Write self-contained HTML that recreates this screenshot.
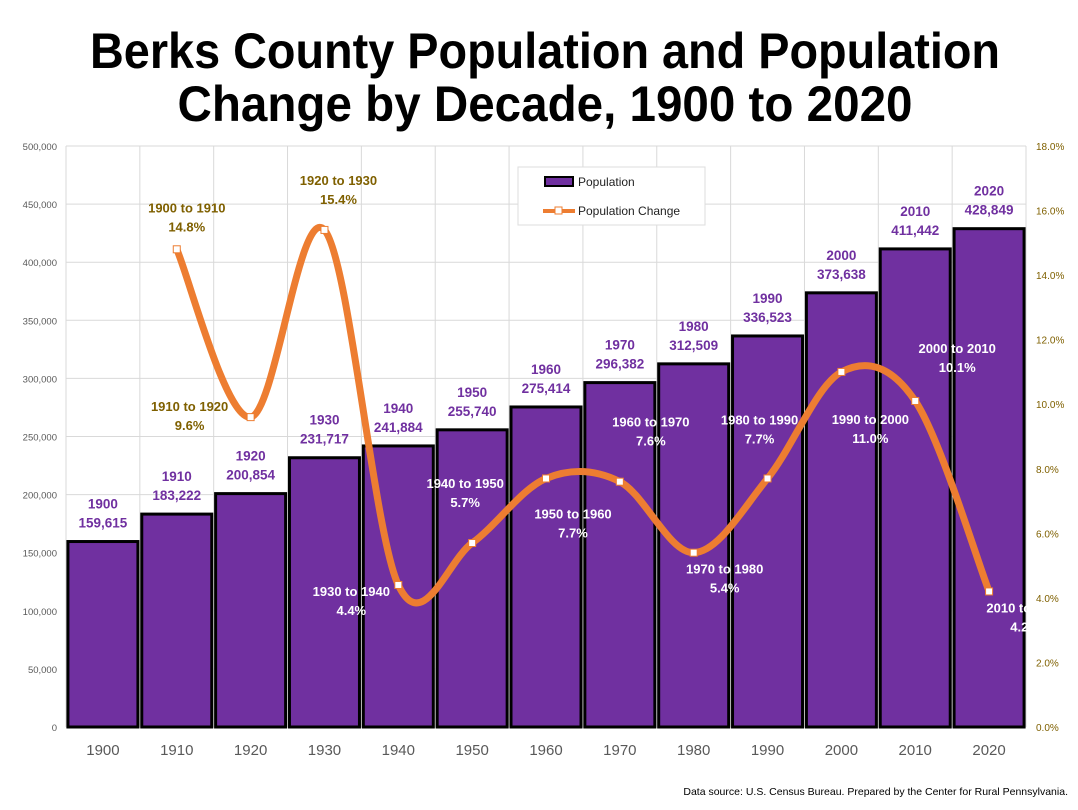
<!DOCTYPE html>
<html><head><meta charset="utf-8"><style>
body{margin:0;background:#fff}
svg{display:block;font-family:"Liberation Sans",sans-serif}
</style></head><body>
<svg id="chart" width="1078" height="810" viewBox="0 0 1078 810" xmlns="http://www.w3.org/2000/svg">
<rect width="1078" height="810" fill="#fff"/>
<text x="545" y="68" text-anchor="middle" font-size="50" font-weight="bold" textLength="910" lengthAdjust="spacingAndGlyphs">Berks County Population and Population</text>
<text x="545" y="121" text-anchor="middle" font-size="50" font-weight="bold" textLength="735" lengthAdjust="spacingAndGlyphs">Change by Decade, 1900 to 2020</text>
<g id="grid"></g>
<g id="bars"></g>
<g id="line"></g>
<g id="labels"></g>
<g id="legend">
<rect x="518" y="167" width="187" height="58" fill="#fff" stroke="#ddd"/>
<rect x="545" y="177" width="28" height="9" fill="#7030a0" stroke="#000" stroke-width="2"/>
<text x="578" y="186" font-size="12" fill="#222">Population</text>
<line x1="543" y1="211" x2="575" y2="211" stroke="#ed7d31" stroke-width="4"/>
<rect x="555" y="207" width="7" height="7" fill="#fff" stroke="#ed7d31"/>
<text x="578" y="215" font-size="12" fill="#222">Population Change</text>
</g>
<text x="1068" y="795" text-anchor="end" font-size="10.5" fill="#000">Data source: U.S. Census Bureau. Prepared by the Center for Rural Pennsylvania.</text>
</svg>
<script>
const years=["1900","1910","1920","1930","1940","1950","1960","1970","1980","1990","2000","2010","2020"];
const population=[159615,183222,200854,231717,241884,255740,275414,296382,312509,336523,373638,411442,428849];
const changeLabels=["1900 to 1910","1910 to 1920","1920 to 1930","1930 to 1940","1940 to 1950","1950 to 1960","1960 to 1970","1970 to 1980","1980 to 1990","1990 to 2000","2000 to 2010","2010 to 2020"];
const changePct=[14.8,9.6,15.4,4.4,5.7,7.7,7.6,5.4,7.7,11.0,10.1,4.2];
const leftTicks=[0,50000,100000,150000,200000,250000,300000,350000,400000,450000,500000];
const rightTicks=[0,2,4,6,8,10,12,14,16,18];
// label placement offsets (layout, not data)
const lblDx=[10,-61,14,-47,-7,27,31,31,-8,29,42,36];
const lblDy=[-37,-6,-45,11,-55,40,-55,21,-54,52,-48,21];
const NS="http://www.w3.org/2000/svg";
const X0=66,X1=1026,Y0=727,Y1=146;
const bw=(X1-X0)/years.length;
const xc=i=>X0+bw*(i+0.5);
const yL=v=>Y0-(v/500000)*(Y0-Y1);
const yR=v=>Y0-(v/18)*(Y0-Y1);
function mk(tag,attrs,parent,txt){const e=document.createElementNS(NS,tag);for(const k in attrs)e.setAttribute(k,attrs[k]);if(txt!=null)e.textContent=txt;parent.appendChild(e);return e;}
const fmt=n=>n.toLocaleString("en-US");
const grid=document.getElementById("grid");
leftTicks.forEach(t=>{
 const l=mk("line",{x1:X0,x2:X1,y1:yL(t),y2:yL(t),stroke:"#d9d9d9"},grid);
 
 
 const tx=mk("text",{x:57,y:yL(t)+4,"text-anchor":"end","font-size":"9.5",fill:"#595959"},grid,fmt(t));
 
 
});
for(let i=0;i<=years.length;i++){
 const l=mk("line",{x1:X0+bw*i,x2:X0+bw*i,y1:Y1,y2:Y0,stroke:"#d9d9d9"},grid);
 
 
}
rightTicks.forEach(t=>{
 const tx=mk("text",{x:1036,y:yR(t)+4,"font-size":"10",fill:"#7f6000"},grid,t.toFixed(1)+"%");
 
 
});
const bars=document.getElementById("bars"),labels=document.getElementById("labels");
years.forEach((y,i)=>{
 const top=yL(population[i]);
 const r=mk("rect",{x:xc(i)-35,y:top,width:70,height:Y0-top,fill:"#7030a0",stroke:"#000","stroke-width":3},bars);
 
 
 const a=mk("text",{x:xc(i),y:top-33,"text-anchor":"middle","font-size":"13.5","font-weight":"bold",fill:"#7030a0"},labels,y);
 
 
 const b=mk("text",{x:xc(i),y:top-14,"text-anchor":"middle","font-size":"13.5","font-weight":"bold",fill:"#7030a0"},labels,fmt(population[i]));
 
 
 const xl=mk("text",{x:xc(i),y:755,"text-anchor":"middle","font-size":"15",fill:"#595959"},labels,y);
 
 
});
const pts=changePct.map((v,i)=>[xc(i+1),yR(v)]);
let d="M"+pts[0][0]+","+pts[0][1];
for(let i=0;i<pts.length-1;i++){
 const p0=pts[Math.max(0,i-1)],p1=pts[i],p2=pts[i+1],p3=pts[Math.min(pts.length-1,i+2)];
 const t=6;
 d+=" C"+(p1[0]+(p2[0]-p0[0])/t)+","+(p1[1]+(p2[1]-p0[1])/t)+" "+(p2[0]-(p3[0]-p1[0])/t)+","+(p2[1]-(p3[1]-p1[1])/t)+" "+p2[0]+","+p2[1];
}
const lineG=document.getElementById("line");
const path=mk("path",{d:d,fill:"none",stroke:"#ed7d31","stroke-width":7,"stroke-linecap":"round"},lineG);


pts.forEach((p,i)=>{
 const m=mk("rect",{x:p[0]-3.5,y:p[1]-3.5,width:7,height:7,fill:"#fff",stroke:"#ed7d31","stroke-width":1},lineG);
 
 
 const col=i<3?"#7f6000":"#fff";
 const lx=p[0]+lblDx[i],ly=p[1]+lblDy[i];
 const t1=mk("text",{x:lx,y:ly,"text-anchor":"middle","font-size":"13","font-weight":"bold",fill:col},lineG,changeLabels[i]);
 
 
 const t2=mk("text",{x:lx,y:ly+19,"text-anchor":"middle","font-size":"13","font-weight":"bold",fill:col},lineG,changePct[i].toFixed(1)+"%");
 
 
});
const cp=mk("clipPath",{id:"pc"},document.getElementById("chart"));
mk("rect",{x:0,y:0,width:1027,height:810},cp);
lineG.setAttribute("clip-path","url(#pc)");
</script>
</body></html>
